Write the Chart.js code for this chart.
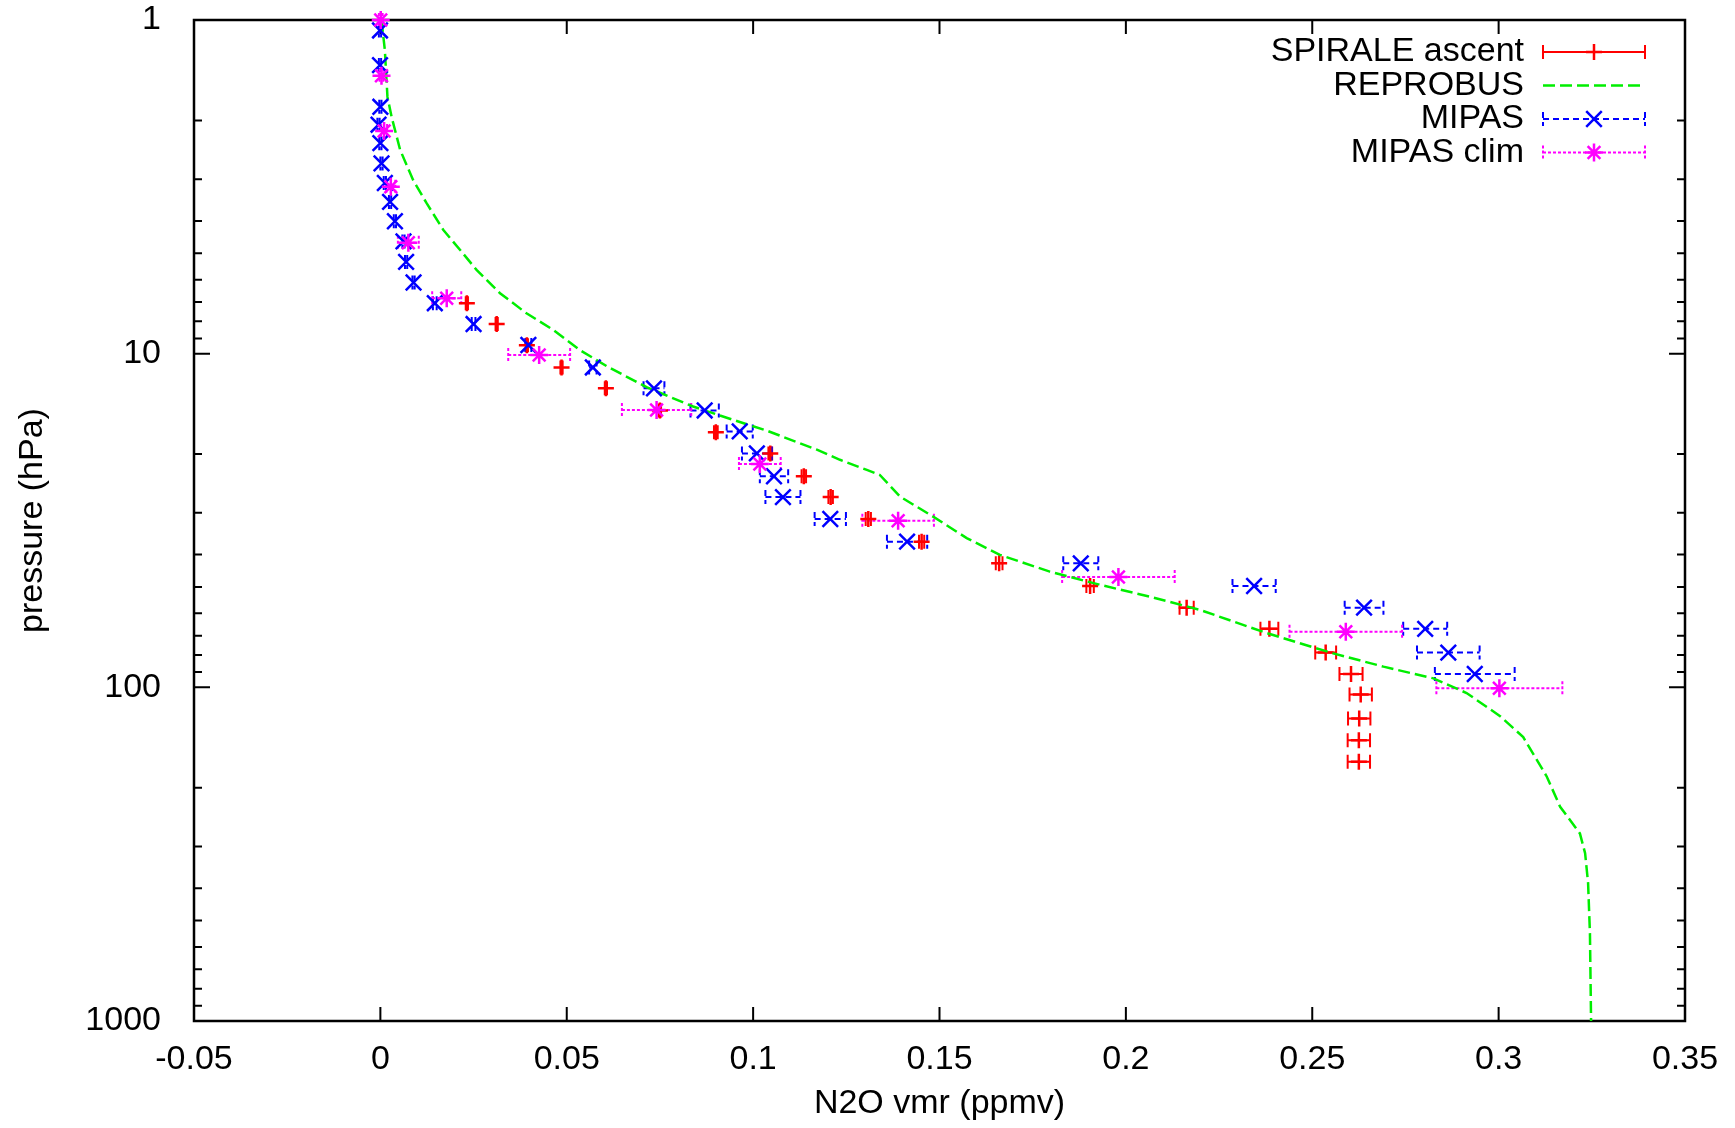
<!DOCTYPE html>
<html>
<head>
<meta charset="utf-8">
<title>N2O profiles</title>
<script src="https://cdn.jsdelivr.net/npm/chart.js@4/dist/chart.umd.min.js"></script>
<style>
  html, body { margin: 0; padding: 0; background: #fff; }
  #wrap { width: 1735px; height: 1128px; }
</style>
</head>
<body>
<div id="wrap"><canvas id="n2oChart" width="1735" height="1128"></canvas></div>
<script>
// Axis ticks
const xTicks = [-0.05, 0, 0.05, 0.1, 0.15, 0.2, 0.25, 0.3, 0.35];
const yTicks = [1, 10, 100, 1000];

// SPIRALE ascent (pressure hPa, N2O ppmv, half error)
const spiraleP = [7.06, 8.15, 9.43, 11.0, 12.7, 14.8, 17.2, 19.9, 23.3, 26.9, 31.3, 36.6, 42.5, 49.7, 57.7, 66.8, 78.7, 91.2, 105, 124, 144, 167];
const spiraleN2O = [0.0232, 0.0312, 0.0393, 0.0486, 0.0605, 0.0750, 0.0900, 0.1046, 0.1136, 0.1208, 0.1309, 0.1452, 0.1660, 0.1904, 0.2163, 0.2385, 0.2536, 0.2604, 0.2630, 0.2626, 0.2625, 0.2625];
const spiraleErr = [0.0003, 0.0003, 0.0003, 0.0003, 0.0003, 0.0003, 0.0005, 0.0005, 0.0006, 0.0006, 0.0007, 0.0007, 0.0009, 0.001, 0.0019, 0.0024, 0.0028, 0.0031, 0.003, 0.003, 0.003, 0.003];

// REPROBUS model profile
const reprobusP = [1.0, 1.23, 1.70, 1.95, 2.45, 3.02, 3.54, 4.26, 4.89, 5.61, 6.59, 7.57, 8.49, 9.75, 10.9, 12.6, 14.4, 15.8, 17.0, 19.4, 20.8, 22.3, 23.1, 26.8, 30.8, 35.7, 40.1, 45.0, 49.3, 53.5, 58.6, 68.8, 79.1, 86.7, 94.0, 104, 122, 141, 185, 228, 274, 314, 386, 546, 1000];
const reprobusN2O = [0.0003, 0.0012, 0.0019, 0.003, 0.0053, 0.0088, 0.0124, 0.0169, 0.0214, 0.0258, 0.0321, 0.0392, 0.0464, 0.0535, 0.0607, 0.0714, 0.0839, 0.0947, 0.1036, 0.1171, 0.1233, 0.1305, 0.1340, 0.1394, 0.1483, 0.1573, 0.1662, 0.1796, 0.1931, 0.2065, 0.2199, 0.2378, 0.2556, 0.2691, 0.2825, 0.2914, 0.3004, 0.3066, 0.3129, 0.3165, 0.3218, 0.3232, 0.3240, 0.3245, 0.3248];

// MIPAS
const mipasP = [1.075, 1.365, 1.82, 2.06, 2.34, 2.69, 3.08, 3.51, 4.01, 4.61, 5.31, 6.12, 7.06, 8.15, 9.42, 11.0, 12.7, 14.8, 17.1, 19.9, 23.3, 26.9, 31.3, 36.6, 42.5, 49.7, 57.7, 66.8, 78.7, 91.2];
const mipasN2O = [-0.0001, -0.0001, 0.0, -0.0005, 0.0, 0.0003, 0.0012, 0.0026, 0.0039, 0.0062, 0.0069, 0.0089, 0.0146, 0.0250, 0.0397, 0.0570, 0.0734, 0.0870, 0.0964, 0.1010, 0.1056, 0.1080, 0.1207, 0.1413, 0.1879, 0.2344, 0.2639, 0.2803, 0.2865, 0.2936];
const mipasErr = [0.0003, 0.0003, 0.0003, 0.0003, 0.0003, 0.0003, 0.0003, 0.0003, 0.0003, 0.0003, 0.0003, 0.0003, 0.0005, 0.0005, 0.0008, 0.001, 0.0028, 0.0038, 0.0035, 0.004, 0.0038, 0.0047, 0.0042, 0.0054, 0.0047, 0.0058, 0.0052, 0.0059, 0.0084, 0.0107];

// MIPAS climatology
const climP = [1.0, 1.47, 2.15, 3.16, 4.65, 6.82, 10.09, 14.75, 21.4, 31.7, 46.7, 68.1, 100.6];
const climN2O = [0.0001, 0.0003, 0.001, 0.0028, 0.0075, 0.0178, 0.0426, 0.0741, 0.1018, 0.1389, 0.1980, 0.2590, 0.3002];
const climErr = [0.0005, 0.0005, 0.0008, 0.0012, 0.0028, 0.0039, 0.0083, 0.0093, 0.0056, 0.0096, 0.0151, 0.0151, 0.0169];

const FONT = '"Liberation Sans", Arial, Helvetica, sans-serif';
const font = { family: FONT, size: 34 };

function toPoints(ps, vals) {
    return ps.map((p, i) => ({ x: vals[i], y: p }));
}

// Horizontal error bars with end caps
const errorBars = {
    id: 'errorBars',
    beforeDatasetsDraw(chart) {
        const { ctx, scales: { x, y } } = chart;
        chart.data.datasets.forEach(ds => {
            if (!ds.xErr) return;
            ctx.save();
            ctx.strokeStyle = ds.borderColor;
            ctx.lineWidth = 2;
            ctx.setLineDash(ds.errDash);
            ds.data.forEach((pt, i) => {
                const e = ds.xErr[i];
                const py = y.getPixelForValue(pt.y);
                const xl = x.getPixelForValue(pt.x - e);
                const xr = x.getPixelForValue(pt.x + e);
                ctx.beginPath();
                ctx.moveTo(xl, py); ctx.lineTo(xr, py);
                ctx.moveTo(xl, py - 7); ctx.lineTo(xl, py + 7);
                ctx.moveTo(xr, py - 7); ctx.lineTo(xr, py + 7);
                ctx.stroke();
            });
            ctx.restore();
        });
    }
};

// Box border with inward ticks (gnuplot look)
const frameTicks = {
    id: 'frameTicks',
    beforeDatasetsDraw(chart) {
        const { ctx, chartArea: a, scales: { x, y } } = chart;
        ctx.save();
        ctx.strokeStyle = '#000';
        ctx.lineWidth = 2;
        ctx.beginPath();
        xTicks.forEach(v => {
            const px = x.getPixelForValue(v);
            ctx.moveTo(px, a.bottom); ctx.lineTo(px, a.bottom - 14);
            ctx.moveTo(px, a.top); ctx.lineTo(px, a.top + 14);
        });
        yTicks.forEach((d, k) => {
            const py = y.getPixelForValue(d);
            ctx.moveTo(a.left, py); ctx.lineTo(a.left + 16, py);
            ctx.moveTo(a.right, py); ctx.lineTo(a.right - 16, py);
            if (k === yTicks.length - 1) return;
            for (let m = 2; m <= 9; m++) {
                const my = y.getPixelForValue(m * d);
                ctx.moveTo(a.left, my); ctx.lineTo(a.left + 8, my);
                ctx.moveTo(a.right, my); ctx.lineTo(a.right - 8, my);
            }
        });
        ctx.stroke();
        ctx.lineWidth = 2.5;
        ctx.strokeRect(a.left, a.top, a.right - a.left, a.bottom - a.top);
        ctx.restore();
    }
};

// Legend in the top right corner: text, then sample line
const sampleLegend = {
    id: 'sampleLegend',
    afterDraw(chart) {
        const { ctx, chartArea: a } = chart;
        const textRight = a.right - 161;
        const x0 = a.right - 142, x1 = a.right - 40, xm = (x0 + x1) / 2;
        ctx.save();
        ctx.font = '34px ' + FONT;
        ctx.textAlign = 'right';
        ctx.textBaseline = 'middle';
        chart.data.datasets.forEach((ds, i) => {
            const ry = a.top + 32 + i * 33.5;
            ctx.fillStyle = '#000';
            ctx.fillText(ds.label, textRight, ry);
            ctx.strokeStyle = ds.borderColor;
            ctx.lineWidth = ds.xErr ? 2 : ds.borderWidth;
            ctx.setLineDash(ds.xErr ? ds.errDash : ds.borderDash);
            ctx.beginPath();
            ctx.moveTo(x0, ry); ctx.lineTo(x1, ry);
            if (ds.xErr) {
                ctx.moveTo(x0, ry - 7); ctx.lineTo(x0, ry + 7);
                ctx.moveTo(x1, ry - 7); ctx.lineTo(x1, ry + 7);
            }
            ctx.stroke();
            ctx.setLineDash([]);
            if (ds.xErr) {
                ctx.lineWidth = ds.pointBorderWidth;
                Chart.helpers.drawPoint(ctx, {
                    pointStyle: ds.pointStyle,
                    radius: ds.pointRadius,
                    rotation: 0,
                    borderWidth: ds.pointBorderWidth
                }, xm, ry);
            }
        });
        ctx.restore();
    }
};

function initChart() {
    const ctx = document.getElementById('n2oChart').getContext('2d');
    new Chart(ctx, {
        type: 'scatter',
        data: {
            datasets: [{
                label: 'SPIRALE ascent',
                data: toPoints(spiraleP, spiraleN2O),
                xErr: spiraleErr,
                errDash: [],
                borderColor: '#ff0000',
                backgroundColor: '#ff0000',
                pointStyle: 'cross',
                pointRadius: 8,
                pointBorderWidth: 2.5,
                showLine: false,
                clip: false,
                order: 4
            }, {
                label: 'REPROBUS',
                data: toPoints(reprobusP, reprobusN2O),
                borderColor: '#00ee00',
                backgroundColor: '#00ee00',
                borderWidth: 2.5,
                borderDash: [12, 5],
                pointRadius: 0,
                showLine: true,
                tension: 0,
                fill: false,
                clip: false,
                order: 3
            }, {
                label: 'MIPAS',
                data: toPoints(mipasP, mipasN2O),
                xErr: mipasErr,
                errDash: [6, 4],
                borderColor: '#0000ff',
                backgroundColor: '#0000ff',
                pointStyle: 'crossRot',
                pointRadius: 11,
                pointBorderWidth: 2.5,
                showLine: false,
                clip: false,
                order: 2
            }, {
                label: 'MIPAS clim',
                data: toPoints(climP, climN2O),
                xErr: climErr,
                errDash: [3, 2],
                borderColor: '#ff00ff',
                backgroundColor: '#ff00ff',
                pointStyle: 'star',
                pointRadius: 9,
                pointBorderWidth: 2.5,
                showLine: false,
                clip: false,
                order: 1
            }]
        },
        options: {
            responsive: false,
            animation: false,
            events: [],
            layout: { padding: { top: 20, right: 50, bottom: 0, left: 0 } },
            plugins: {
                legend: { display: false },
                tooltip: { enabled: false }
            },
            scales: {
                x: {
                    type: 'linear',
                    min: -0.05,
                    max: 0.35,
                    afterBuildTicks: s => { s.ticks = xTicks.map(v => ({ value: v })); },
                    afterFit: s => { s.height = 107; s.paddingLeft = 0; s.paddingRight = 0; },
                    ticks: {
                        color: '#000', font: font, padding: 10, autoSkip: false, maxRotation: 0,
                        callback: v => String(Math.round(v * 100) / 100)
                    },
                    grid: { display: false },
                    border: { display: false },
                    title: { display: true, text: 'N2O vmr (ppmv)', color: '#000', font: font, padding: { top: 0, bottom: 4 } }
                },
                y: {
                    type: 'logarithmic',
                    reverse: true,
                    min: 1,
                    max: 1000,
                    afterBuildTicks: s => { s.ticks = yTicks.map(v => ({ value: v })); },
                    afterFit: s => { s.width = 194; s.paddingTop = 0; s.paddingBottom = 0; },
                    ticks: {
                        color: '#000', font: font, padding: 25, autoSkip: false,
                        callback: v => String(v)
                    },
                    grid: { display: false },
                    border: { display: false },
                    title: { display: true, text: 'pressure (hPa)', color: '#000', font: font, padding: { top: 12, bottom: 0 } }
                }
            }
        },
        plugins: [frameTicks, errorBars, sampleLegend]
    });
}

initChart();
</script>
</body>
</html>
